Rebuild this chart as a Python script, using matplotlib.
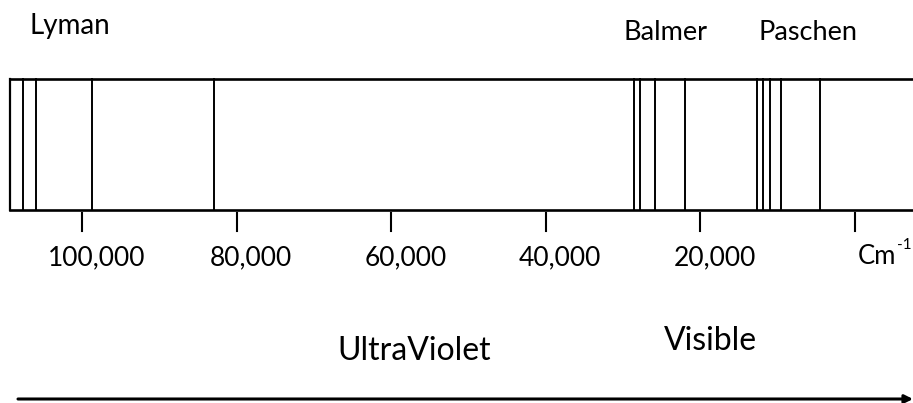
import matplotlib.pyplot as plt

plt.rcParams['font.family'] = ['Lato', 'DejaVu Sans']

# wavenumbers (cm^-1) of the drawn lines
lyman = [107700, 106000, 98700, 83000]
balmer = [28600, 27800, 25900, 22000]
paschen = [12700, 11900, 11000, 9600, 4500]
box_start = 109400

tick_values = [100000, 80000, 60000, 40000, 20000, 0]
tick_labels = ['100,000', '80,000', '60,000', '40,000', '20,000', '']

series_names = ['Lyman', 'Balmer', 'Paschen']
region_names = ['UltraViolet', 'Visible']

W, H = 913, 403
fig = plt.figure(figsize=(W / 100, H / 100), dpi=100)
ax = fig.add_axes([0, 0, 1, 1])
ax.set_xlim(110670, -7510)
ax.set_ylim(H, 0)
ax.axis('off')

# box
top, bottom = 79, 210
ax.plot([box_start, box_start], [top, bottom], color='k', lw=1.6)
ax.plot([box_start, -20000], [top, top], color='k', lw=1.9)
ax.plot([box_start, -20000], [bottom, bottom], color='k', lw=1.9)

# spectral lines
for v in lyman + balmer + paschen:
    ax.plot([v, v], [top, bottom], color='k', lw=1.4)

# ticks and labels
for v, lab in zip(tick_values, tick_labels):
    ax.plot([v, v], [213, 231], color='k', lw=1.5)
    ax.annotate(lab, xy=(v, 258), xytext=(14, 0), textcoords='offset pixels',
                ha='center', va='center', fontsize=19)

def px(x, y):
    return x / W, 1 - y / H

# unit label with superscript
cm = ax.text(*px(858, 264), 'Cm', transform=ax.transAxes,
             ha='left', va='baseline', fontsize=18.5)
fig.canvas.draw()
x_end = cm.get_window_extent().x1
ax.text(x_end / W + 0.001, 1 - 249 / H, '-1', transform=ax.transAxes,
        ha='left', va='baseline', fontsize=11)

# series names
ax.text(*px(30, 34), series_names[0], transform=ax.transAxes, ha='left', va='baseline', fontsize=20)
ax.text(*px(665, 40), series_names[1], transform=ax.transAxes, ha='center', va='baseline', fontsize=19.5)
ax.text(*px(808, 40), series_names[2], transform=ax.transAxes, ha='center', va='baseline', fontsize=19.5)

# regions
ax.text(*px(414, 360), region_names[0], transform=ax.transAxes, ha='center', va='baseline', fontsize=23)
ax.text(*px(710, 350), region_names[1], transform=ax.transAxes, ha='center', va='baseline', fontsize=23)

# arrow
ax.annotate('', xy=px(913, 399), xytext=px(18, 399), xycoords='axes fraction',
            textcoords='axes fraction',
            arrowprops=dict(arrowstyle='-|>', lw=2.2, color='k', mutation_scale=12,
                            shrinkA=0, shrinkB=0))

fig.savefig('out.png', dpi=100)
